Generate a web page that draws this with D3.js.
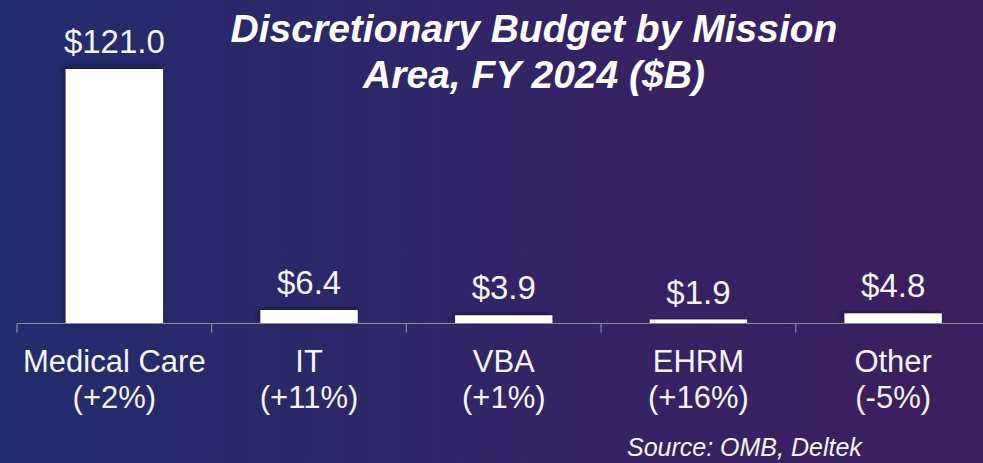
<!DOCTYPE html>
<html><head><meta charset="utf-8">
<script src="https://cdn.jsdelivr.net/npm/d3@7"></script>
<style>html,body{margin:0;padding:0;overflow:hidden;background:#2a2868}</style>
</head><body>
<svg id="c" width="983" height="463"></svg>
<script>
const categories = ["Medical Care", "IT", "VBA", "EHRM", "Other"];
const changes = ["(+2%)", "(+11%)", "(+1%)", "(+16%)", "(-5%)"];
const values = [121.0, 6.4, 3.9, 1.9, 4.8];
const titleLines = ["Discretionary Budget by Mission", "Area, FY 2024 ($B)"];
const source = "Source: OMB, Deltek";

const W = 983, H = 463;
const svg = d3.select("#c");
const font = "'Liberation Sans', Arial, sans-serif";

const defs = svg.append("defs");
const grad = defs.append("linearGradient").attr("id", "bg").attr("x1", 0).attr("x2", 1).attr("y1", 0).attr("y2", 0);
grad.append("stop").attr("offset", "0%").attr("stop-color", "#212d6d");
grad.append("stop").attr("offset", "55%").attr("stop-color", "#332466");
grad.append("stop").attr("offset", "100%").attr("stop-color", "#3c1f5f");
const f = defs.append("filter").attr("id", "sh").attr("x", "-30%").attr("y", "-30%").attr("width", "160%").attr("height", "160%");
f.append("feDropShadow").attr("dx", -2).attr("dy", -2).attr("stdDeviation", 3).attr("flood-color", "#000").attr("flood-opacity", 0.45);

svg.append("rect").attr("width", W).attr("height", H).attr("fill", "url(#bg)");

const axisY = 323.5;
const x = d3.scaleBand().domain(categories).range([17, 17 + 5 * 194.7]).paddingInner(0.5).paddingOuter(0.25);
const y = d3.scaleLinear().domain([0, 121]).range([axisY, 69]);

// bars
svg.append("g").selectAll("rect").data(values).join("rect")
  .attr("x", (d, i) => x(categories[i]))
  .attr("width", x.bandwidth())
  .attr("y", d => y(d))
  .attr("height", d => axisY - y(d))
  .attr("fill", "#ffffff")
  .attr("filter", "url(#sh)");

// axis
const ax = svg.append("g").attr("stroke", "#8a8a9a").attr("stroke-width", 1.2);
ax.append("line").attr("x1", 17).attr("x2", W).attr("y1", axisY).attr("y2", axisY);
const tickXs = categories.map(c => x(c) - x.step() * 0.25).concat([x(categories[4]) + x.step() * 0.75]);
ax.selectAll("line.t").data(tickXs).join("line").attr("class", "t")
  .attr("x1", d => d).attr("x2", d => d).attr("y1", axisY).attr("y2", axisY + 9);

// value labels
svg.append("g").selectAll("text").data(values).join("text")
  .attr("x", (d, i) => x(categories[i]) + x.bandwidth() / 2)
  .attr("y", d => y(d) - 16)
  .attr("text-anchor", "middle")
  .attr("font-family", font).attr("font-size", 33).attr("fill", "#f4f4f8")
  .text(d => "$" + d.toFixed(1));

// category labels
const cl = svg.append("g").selectAll("text").data(categories).join("text")
  .attr("text-anchor", "middle")
  .attr("font-family", font).attr("font-size", 31).attr("fill", "#f4f4f8");
cl.append("tspan").attr("x", (d) => x(d) + x.bandwidth() / 2).attr("y", 372).text(d => d);
cl.append("tspan").attr("x", (d) => x(d) + x.bandwidth() / 2).attr("y", 408).text((d, i) => changes[i]);

// title
svg.append("g").selectAll("text").data(titleLines).join("text")
  .attr("x", 534).attr("y", (d, i) => 42 + i * 46)
  .attr("text-anchor", "middle")
  .attr("font-family", font).attr("font-size", 39).attr("font-weight", "bold").attr("font-style", "italic")
  .attr("fill", "#ffffff")
  .text(d => d);

// source
svg.append("text").attr("x", 627).attr("y", 456)
  .attr("font-family", font).attr("font-size", 25).attr("font-style", "italic").attr("fill", "#f4f4f8")
  .text(source);
</script>
</body></html>
